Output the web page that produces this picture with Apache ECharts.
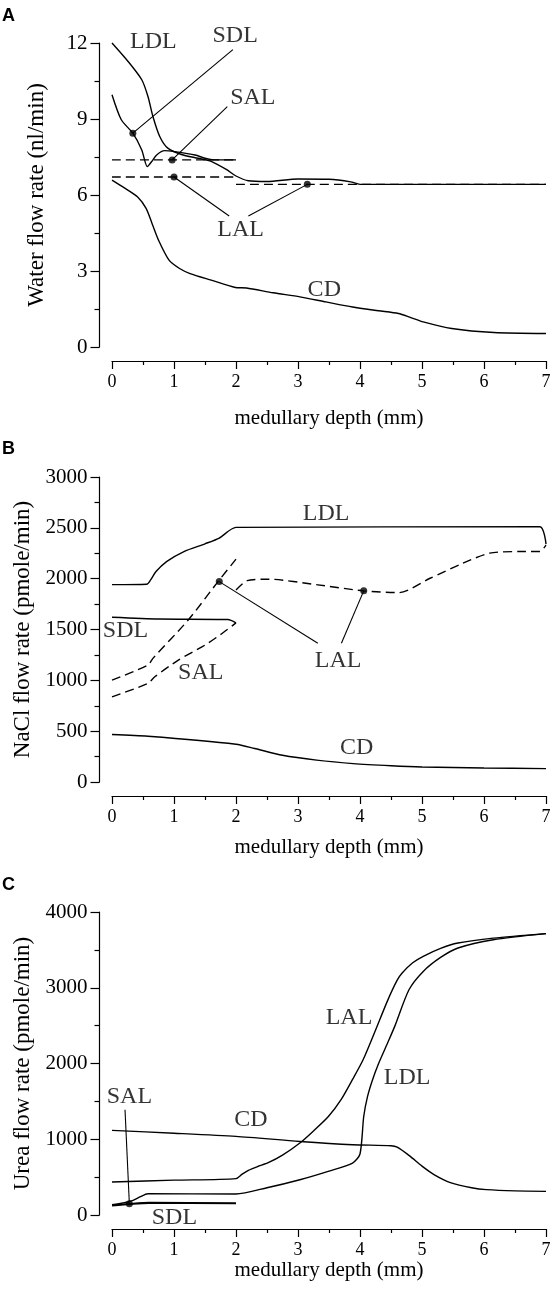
<!DOCTYPE html>
<html><head><meta charset="utf-8">
<script src="https://cdn.jsdelivr.net/npm/echarts@6/dist/echarts.min.js"></script>
<style>html,body{margin:0;padding:0;background:#fff}#c{width:553px;height:1292px}</style>
</head><body><div id="c"></div>
<script>
// ---------- Panel A : water flow (nl/min) ----------
const A_LDL = [[0,12.0],[0.26,11.27],[0.48,10.55],[0.58,9.89],[0.66,9.10],[0.77,8.31],[0.90,7.85],[1.12,7.6],[1.39,7.45],[1.6,7.33],[1.85,7.0],[2.0,6.75],[2.2,6.56],[2.5,6.53],[3.0,6.63],[3.5,6.62],[3.85,6.52],[4.0,6.42],[7,6.42]];
const A_SDL = [[0,9.96],[0.15,8.97],[0.336,8.44],[0.48,7.78],[0.57,7.12],[0.64,7.32],[0.72,7.58],[0.85,7.75],[1.01,7.71],[1.34,7.58],[1.5,7.45],[1.65,7.385],[2.0,7.385]];
const A_SAL = [[0,7.385],[2.0,7.385]];
const A_LAL1 = [[0,6.71],[2.0,6.71]];
const A_LAL2 = [[2.0,6.42],[7,6.42]];
const A_CD = [[0,6.59],[0.2,6.28],[0.41,5.93],[0.55,5.47],[0.65,4.85],[0.75,4.22],[0.92,3.43],[1.09,3.10],[1.26,2.90],[1.6,2.64],[1.99,2.35],[2.17,2.33],[2.6,2.14],[3.03,1.98],[3.45,1.78],[3.88,1.58],[4.3,1.43],[4.62,1.32],[4.8,1.18],[5.02,0.99],[5.48,0.73],[6.16,0.57],[7,0.53]];
const A_dots = [[0.336,8.44],[0.97,7.385],[1.0,6.71],[3.15,6.42]];
const A_leaders = [[[0.336,8.44],[1.95,11.74]],[[0.97,7.385],[1.86,9.49]],[[1.0,6.71],[1.89,5.17]],[[3.15,6.42],[2.2,5.17]]];
const A_tags = [['LDL',0.666,12.07],['SDL',1.987,12.30],['SAL',2.271,9.86],['LAL',2.074,4.62],['CD',3.424,2.28]];
const A_yTicks = {min:0,max:12,step:3};

// ---------- Panel B : NaCl flow (pmole/min) ----------
const B_LDL = [[0,1941],[0.56,1945],[0.62,1985],[0.71,2070],[0.88,2168],[1.16,2267],[1.5,2343],[1.73,2399],[2.0,2505],[6.9,2510],[7.0,2340]];
const B_LAL1 = [[0,1002],[0.58,1150],[0.66,1216],[1.23,1594],[1.71,1971],[2.0,2192]];
const B_LAL2 = [[2.0,1889],[2.18,1981],[2.52,1995],[3.32,1939],[4.06,1880],[4.63,1863],[5.13,2004],[5.66,2152],[6.09,2251],[6.63,2267],[6.9,2267],[7.0,2330]];
const B_SAL = [[0,838],[0.58,970],[0.69,1035],[1.07,1199],[1.5,1347],[1.75,1450],[2.0,1565]];
const B_SDL = [[0,1620],[0.76,1603],[1.87,1598],[2.0,1565]];
const B_CD = [[0,467],[0.58,450],[2.0,372],[2.3,330],[2.75,263],[3.3,215],[3.89,181],[4.5,160],[5.0,148],[6.0,138],[7,132]];
const B_dots = [[1.73,1971],[4.06,1880]];
const B_leaders = [[[1.73,1971],[3.32,1364]],[[4.06,1880],[3.70,1364]]];
const B_tags = [['LDL',3.453,2641],['SDL',0.218,1485],['SAL',1.432,1076],['LAL',3.647,1191],['CD',3.948,337]];
const B_yTicks = {min:0,max:3000,step:500};

// ---------- Panel C : urea flow (pmole/min) ----------
const C_LAL = [[0,436],[1.0,460],[2.0,480],[2.1,540],[2.2,590],[2.35,640],[2.52,690],[2.75,790],[3.03,950],[3.25,1110],[3.49,1300],[3.7,1530],[3.88,1790],[4.05,2050],[4.22,2380],[4.45,2840],[4.6,3100],[4.68,3195],[4.85,3330],[5.02,3415],[5.3,3520],[5.58,3590],[6.15,3655],[7,3715]];
const C_LDL = [[0,136],[0.18,158],[0.34,193],[0.45,238],[0.58,281],[2.0,277],[2.5,360],[3.03,466],[3.5,580],[3.88,686],[4.0,805],[4.06,1300],[4.12,1560],[4.2,1780],[4.3,2000],[4.45,2280],[4.56,2490],[4.79,2974],[5.02,3216],[5.3,3400],[5.58,3525],[6.15,3634],[7,3714]];
const C_CD = [[0,1117],[1.0,1080],[2.0,1038],[3.03,971],[3.88,928],[4.5,915],[4.6,895],[4.8,780],[5.0,645],[5.2,530],[5.47,423],[5.8,360],[6.04,335],[6.5,318],[7,312]];
const C_SAL = [[0,130],[0.28,149],[0.6,165],[2.0,160]];
const C_SDL = [[0,120],[0.3,142],[0.6,156],[2.0,150]];
const C_dots = [[0.28,149]];
const C_leaders = [[[0.28,149],[0.21,1390]]];
const C_tags = [['LAL',3.823,2601],['LDL',4.761,1813],['CD',2.239,1258],['SAL',0.281,1566],['SDL',1.006,-40]];
const C_yTicks = {min:0,max:4000,step:1000};

const xTicks = {min:0,max:7,step:1};
const xTitle = 'medullary depth (mm)';
const yTitles = ['Water flow rate (nl/min)','NaCl flow rate (pmole/min)','Urea flow rate (pmole/min)'];
const panelLetters = ['A','B','C'];

// ---------- build ----------
const SERIF = '"Liberation Serif","Times New Roman",serif';
const BLACK = '#000';
const grids = [
  {left:112, right:7, top:43, height:304, outerBoundsMode:'none'},
  {left:112, right:7, top:477, height:305, outerBoundsMode:'none'},
  {left:112, right:7, top:912, height:303, outerBoundsMode:'none'}
];
const xNameGaps = [47, 41, 31];
const yT = [A_yTicks, B_yTicks, C_yTicks];

const xAxes = grids.map((g,i)=>({
  type:'value', gridIndex:i, min:xTicks.min, max:xTicks.max, interval:xTicks.step, offset:14,
  axisLine:{show:true,onZero:false,lineStyle:{color:BLACK,width:1.2}},
  axisTick:{show:true,length:8,lineStyle:{color:BLACK,width:1.2}},
  minorTick:{show:true,splitNumber:2,length:4,lineStyle:{color:BLACK,width:1.2}},
  splitLine:{show:false}, minorSplitLine:{show:false},
  axisLabel:{color:BLACK,fontFamily:SERIF,fontSize:18,margin:12,formatter:v=>String(v)},
  name:xTitle, nameLocation:'middle', nameGap:xNameGaps[i],
  nameTextStyle:{color:BLACK,fontFamily:SERIF,fontSize:21}
}));
const yAxes = grids.map((g,i)=>({
  type:'value', gridIndex:i, min:yT[i].min, max:yT[i].max, interval:yT[i].step, offset:12.5,
  axisLine:{show:true,onZero:false,lineStyle:{color:BLACK,width:1.2}},
  axisTick:{show:true,length:9,lineStyle:{color:BLACK,width:1.2}},
  minorTick:{show:true,splitNumber:2,length:5,lineStyle:{color:BLACK,width:1.2}},
  splitLine:{show:false}, minorSplitLine:{show:false},
  axisLabel:{color:BLACK,fontFamily:SERIF,fontSize:21,margin:12,formatter:v=>String(v)},
  name:yTitles[i], nameLocation:'middle', nameGap:51,
  nameTextStyle:{color:BLACK,fontFamily:SERIF,fontSize:23}
}));

const series = [];
function curve(i,data,dashed){
  series.push({type:'line',xAxisIndex:i,yAxisIndex:i,data:data,showSymbol:false,symbol:'none',
    smooth:0.25,clip:false,silent:true,
    lineStyle:{color:BLACK,width:1.4,type:dashed?[9,5]:'solid'}});
}
function leaders(i,list){
  list.forEach(seg=>series.push({type:'line',xAxisIndex:i,yAxisIndex:i,data:seg,showSymbol:false,symbol:'none',
    clip:false,silent:true,lineStyle:{color:BLACK,width:1.1}}));
}
function dots(i,data){
  series.push({type:'scatter',xAxisIndex:i,yAxisIndex:i,data:data,symbolSize:7,clip:false,silent:true,
    itemStyle:{color:BLACK}});
}
function tags(i,list){
  series.push({type:'scatter',xAxisIndex:i,yAxisIndex:i,symbolSize:0,clip:false,silent:true,
    data:list.map(t=>({name:t[0],value:[t[1],t[2]]})),
    label:{show:true,position:'inside',formatter:p=>p.name,color:BLACK,fontFamily:SERIF,fontSize:24}});
}
// A
curve(0,A_LDL,false); curve(0,A_SDL,false); curve(0,A_SAL,true); curve(0,A_LAL1,true); curve(0,A_LAL2,true); curve(0,A_CD,false);
leaders(0,A_leaders); dots(0,A_dots); tags(0,A_tags);
// B
curve(1,B_LDL,false); curve(1,B_SDL,false); curve(1,B_SAL,true); curve(1,B_LAL1,true); curve(1,B_LAL2,true); curve(1,B_CD,false);
leaders(1,B_leaders); dots(1,B_dots); tags(1,B_tags);
// C
curve(2,C_LAL,false); curve(2,C_LDL,false); curve(2,C_CD,false); curve(2,C_SAL,false); curve(2,C_SDL,false);
leaders(2,C_leaders); dots(2,C_dots); tags(2,C_tags);

const letterTops = [7, 440, 876];
const chart = echarts.init(document.getElementById('c'), null, {renderer:'canvas'});
chart.setOption({
  backgroundColor:'#fff', animation:false,
  grid:grids, xAxis:xAxes, yAxis:yAxes, series:series,
  graphic: panelLetters.map((L,i)=>({type:'text',left:2,top:letterTops[i],
    style:{text:L,fill:BLACK,font:'bold 18px "Liberation Sans", Arial, sans-serif'}}))
});
</script></body></html>
